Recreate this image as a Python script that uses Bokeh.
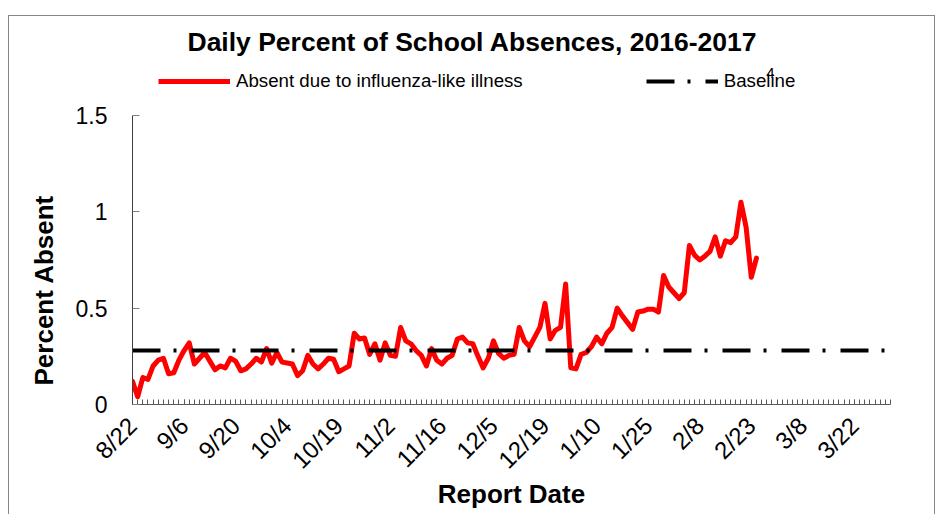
import numpy as np
from bokeh.plotting import figure
from bokeh.layouts import column
from bokeh.models import Label, Legend, LegendItem, FixedTicker, Range1d, Title
from bokeh.embed import file_html
from bokeh.resources import INLINE

# ---------------- data ----------------
ili_pct = [0.12, 0.04, 0.14, 0.13, 0.20, 0.23, 0.24, 0.16, 0.165, 0.23,
           0.28, 0.32, 0.21, 0.24, 0.27, 0.225, 0.18, 0.20, 0.19, 0.24,
           0.225, 0.175, 0.185, 0.21, 0.24, 0.22, 0.29, 0.215, 0.27, 0.22,
           0.215, 0.21, 0.15, 0.175, 0.255, 0.21, 0.185, 0.21, 0.24, 0.235,
           0.17, 0.185, 0.20, 0.37, 0.34, 0.345, 0.26, 0.315, 0.23, 0.32,
           0.255, 0.25, 0.40, 0.33, 0.315, 0.28, 0.255, 0.20, 0.29, 0.23,
           0.21, 0.24, 0.255, 0.34, 0.35, 0.32, 0.315, 0.25, 0.19, 0.24,
           0.33, 0.265, 0.24, 0.255, 0.26, 0.40, 0.33, 0.30, 0.35, 0.40,
           0.525, 0.34, 0.385, 0.40, 0.625, 0.19, 0.185, 0.26, 0.27, 0.30,
           0.35, 0.315, 0.37, 0.40, 0.50, 0.46, 0.425, 0.39, 0.48, 0.485,
           0.495, 0.495, 0.48, 0.67, 0.61, 0.58, 0.55, 0.58, 0.825, 0.775,
           0.75, 0.77, 0.795, 0.87, 0.77, 0.85, 0.84, 0.87, 1.05, 0.92,
           0.66, 0.76]
baseline_value = 0.28
n_report_days = 148
tick_labels = ["8/22", "9/6", "9/20", "10/4", "10/19", "11/2", "11/16", "12/5",
               "12/19", "1/10", "1/25", "2/8", "2/23", "3/8", "3/22"]
label_step = 10
y_ticks = [0, 0.5, 1, 1.5]
y_tick_labels = ["0", "0.5", "1", "1.5"]
title_text = "Daily Percent of School Absences, 2016-2017"
series_names = ["Absent due to influenza-like illness", "Baseline"]

days = list(range(len(ili_pct)))
all_days = list(range(n_report_days))
baseline = [baseline_value] * n_report_days

FONT = "Liberation Sans"
RED = "#FF0000"
BASE_DASH = "28 13 3 15"
W = 925
BORDER_L, BORDER_R = 123, 44   # frame insets shared by header and plot

# ---------------- header (title + legend) ----------------
header = figure(width=W, height=84, output_backend="svg", toolbar_location=None,
                x_range=Range1d(0, 1), y_range=Range1d(0, 1), title=None,
                x_axis_location=None, y_axis_location=None,
                min_border_left=BORDER_L, min_border_right=BORDER_R,
                min_border_top=0, min_border_bottom=0)
header.outline_line_color = None
header.grid.visible = False
header.background_fill_color = "white"
header.border_fill_color = "white"

# legend swatches (renderers with one empty point, used only for the legend glyphs)
h_ili = header.line([np.nan], [np.nan], line_color=RED, line_width=5)
h_base = header.line([np.nan], [np.nan], line_color="black", line_width=4,
                     line_dash=BASE_DASH)

legend = Legend(items=[LegendItem(label=series_names[0], renderers=[h_ili]),
                       LegendItem(label=series_names[1], renderers=[h_base])],
                orientation="horizontal", location=(26, 8),
                spacing=123, glyph_width=72, glyph_height=20, label_height=20,
                label_standoff=6, padding=0, margin=0,
                border_line_color=None, background_fill_alpha=0,
                label_text_font=FONT, label_text_font_size="18.7px",
                label_text_color="black")
header.add_layout(legend, "center")

# header texts, frame-relative screen units
header.add_layout(Label(text=title_text, x=340, y=59, x_units="screen", y_units="screen",
                        text_font=FONT, text_font_size="26.5px", text_font_style="bold",
                        text_align="center", text_baseline="alphabetic",
                        text_color="black"))
header.add_layout(Label(text="4", x=638, y=28, x_units="screen", y_units="screen",
                        text_font=FONT, text_font_size="15px", text_align="center",
                        text_baseline="alphabetic", text_color="black"))

# ---------------- main plot ----------------
p = figure(width=W, height=414, output_backend="svg", toolbar_location=None,
           x_range=Range1d(0, n_report_days - 1), y_range=Range1d(0, 1.5),
           title=None,
           min_border_left=BORDER_L, min_border_right=BORDER_R, min_border_top=15,
           min_border_bottom=110)
p.outline_line_color = None
p.xgrid.visible = False
p.ygrid.visible = False
p.background_fill_color = "white"
p.border_fill_color = "white"

p.line(days, ili_pct, line_color=RED, line_width=5, line_join="round", line_cap="round")
p.line(all_days, baseline, line_color="black", line_width=4, line_dash=BASE_DASH)

# x axis
xa = p.xaxis[0]
xa.ticker = FixedTicker(ticks=[i * label_step for i in range(len(tick_labels))],
                        minor_ticks=all_days)
xa.major_label_overrides = {i * label_step: t for i, t in enumerate(tick_labels)}
xa.major_label_orientation = np.pi / 4
xa.major_label_text_font = FONT
xa.major_label_text_font_size = "24px"
xa.major_label_text_color = "black"
xa.major_label_standoff = 17
xa.major_tick_in = 5
xa.major_tick_out = 0
xa.minor_tick_in = 5
xa.minor_tick_out = 0
xa.axis_line_color = "#595959"
xa.major_tick_line_color = "#595959"
xa.minor_tick_line_color = "#595959"
xa.axis_label = "Report Date"
xa.axis_label_text_font = FONT
xa.axis_label_text_font_size = "26px"
xa.axis_label_text_font_style = "bold"
xa.axis_label_text_color = "black"
xa.axis_label_standoff = -7

# y axis
ya = p.yaxis[0]
ya.ticker = FixedTicker(ticks=y_ticks)
ya.major_label_overrides = dict(zip(y_ticks, y_tick_labels))
ya.major_label_text_font = FONT
ya.major_label_text_font_size = "23px"
ya.major_label_text_color = "black"
ya.major_label_standoff = 25
ya.major_tick_in = 7
ya.major_tick_out = 0
ya.minor_tick_line_color = None
ya.axis_line_color = "#404040"
ya.major_tick_line_color = "#808080"

p.add_layout(Title(text="Percent Absent", align="left", offset=19, standoff=27,
                   text_font=FONT, text_font_size="26px", text_font_style="bold",
                   text_color="black"), "left")

layout = column(header, p, spacing=0,
                styles={"margin-top": "15px", "margin-left": "8px",
                        "border-top": "1px solid #868686",
                        "border-left": "1px solid #868686",
                        "border-right": "1px solid #868686"})

open("out.html", "w").write(file_html(layout, INLINE))
